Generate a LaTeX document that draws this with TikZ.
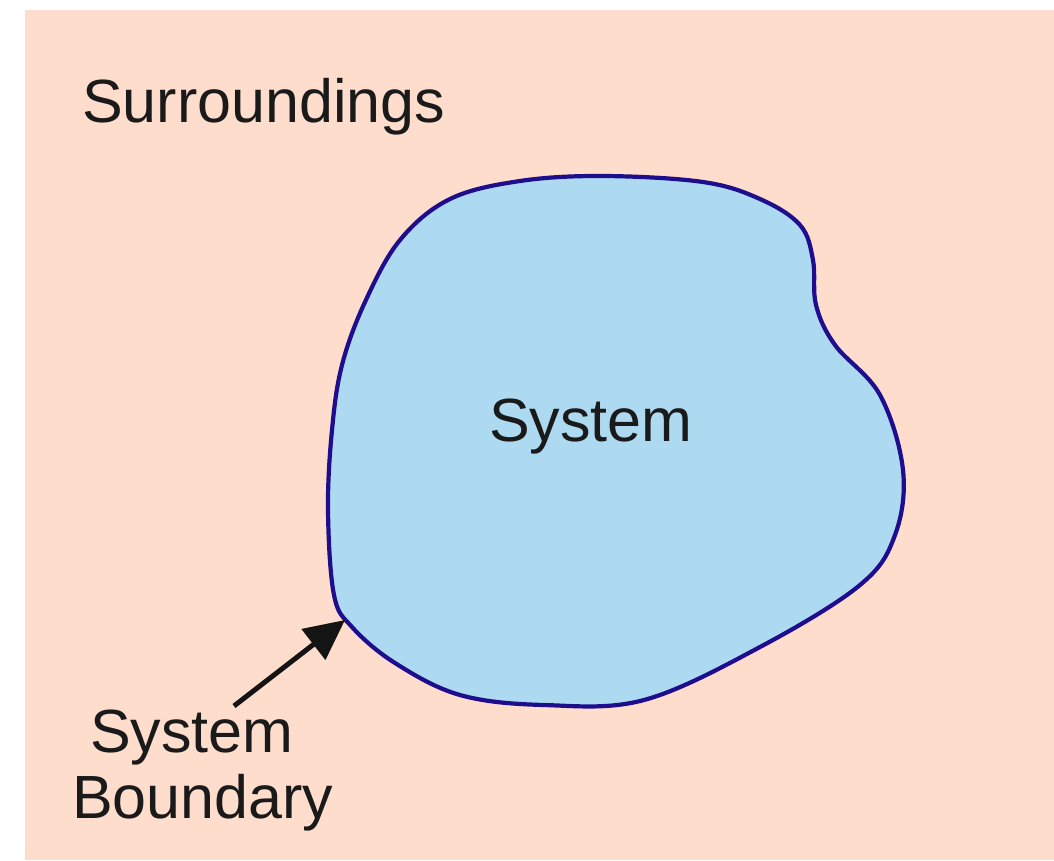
\documentclass[tikz,border=0pt]{standalone}
\usepackage{fontspec}
\setmainfont{Liberation Sans}
\usetikzlibrary{arrows.meta}
\definecolor{peach}{HTML}{FEDDCD}
\definecolor{sysblue}{HTML}{ADDAF1}
\definecolor{edgeblue}{HTML}{1E0E8E}
\definecolor{txt}{HTML}{1A1A1A}
\tikzset{
  lbl/.style={anchor=base west, inner sep=0pt, text=txt, font=\fontsize{61}{66}\selectfont},
  boundary/.style={draw=edgeblue, line width=4.2pt, fill=sysblue},
  pointer/.style={draw=black!92, line width=5pt, -{Triangle[length=40pt,width=38pt]}}
}
\begin{document}
\begin{tikzpicture}[x=1pt,y=-1pt]
\useasboundingbox (0,0) rectangle (1054,860);
\fill[white] (0,0) rectangle (1054,860);
\fill[peach] (25,10) rectangle (1054,860);
\draw[boundary] plot[smooth cycle, tension=0.6] coordinates {
  (332,430) (342,365) (365,302) (400,240) (450,199) (520,181) (603,176)
  (703,182) (760,199) (800,225) (813,260) (816,305) (835,345) (880,395)
  (903,470) (895,535) (860,585) (760,647) (644,700) (544,705) (460,695)
  (395,663) (352,627) (334,595) (328,510)};
\node[lbl] (surr) at (82,122) {Surroundings};
\node[lbl] (sys) at (489,441) {System};
\node[lbl] (bsys) at (90,752) {System};
\node[lbl] (bnd) at (72,818) {Boundary};
\coordinate (tail) at (234,706);
\coordinate (tip) at (345,620);
\draw[pointer] (tail) -- (tip);
\end{tikzpicture}
\end{document}
